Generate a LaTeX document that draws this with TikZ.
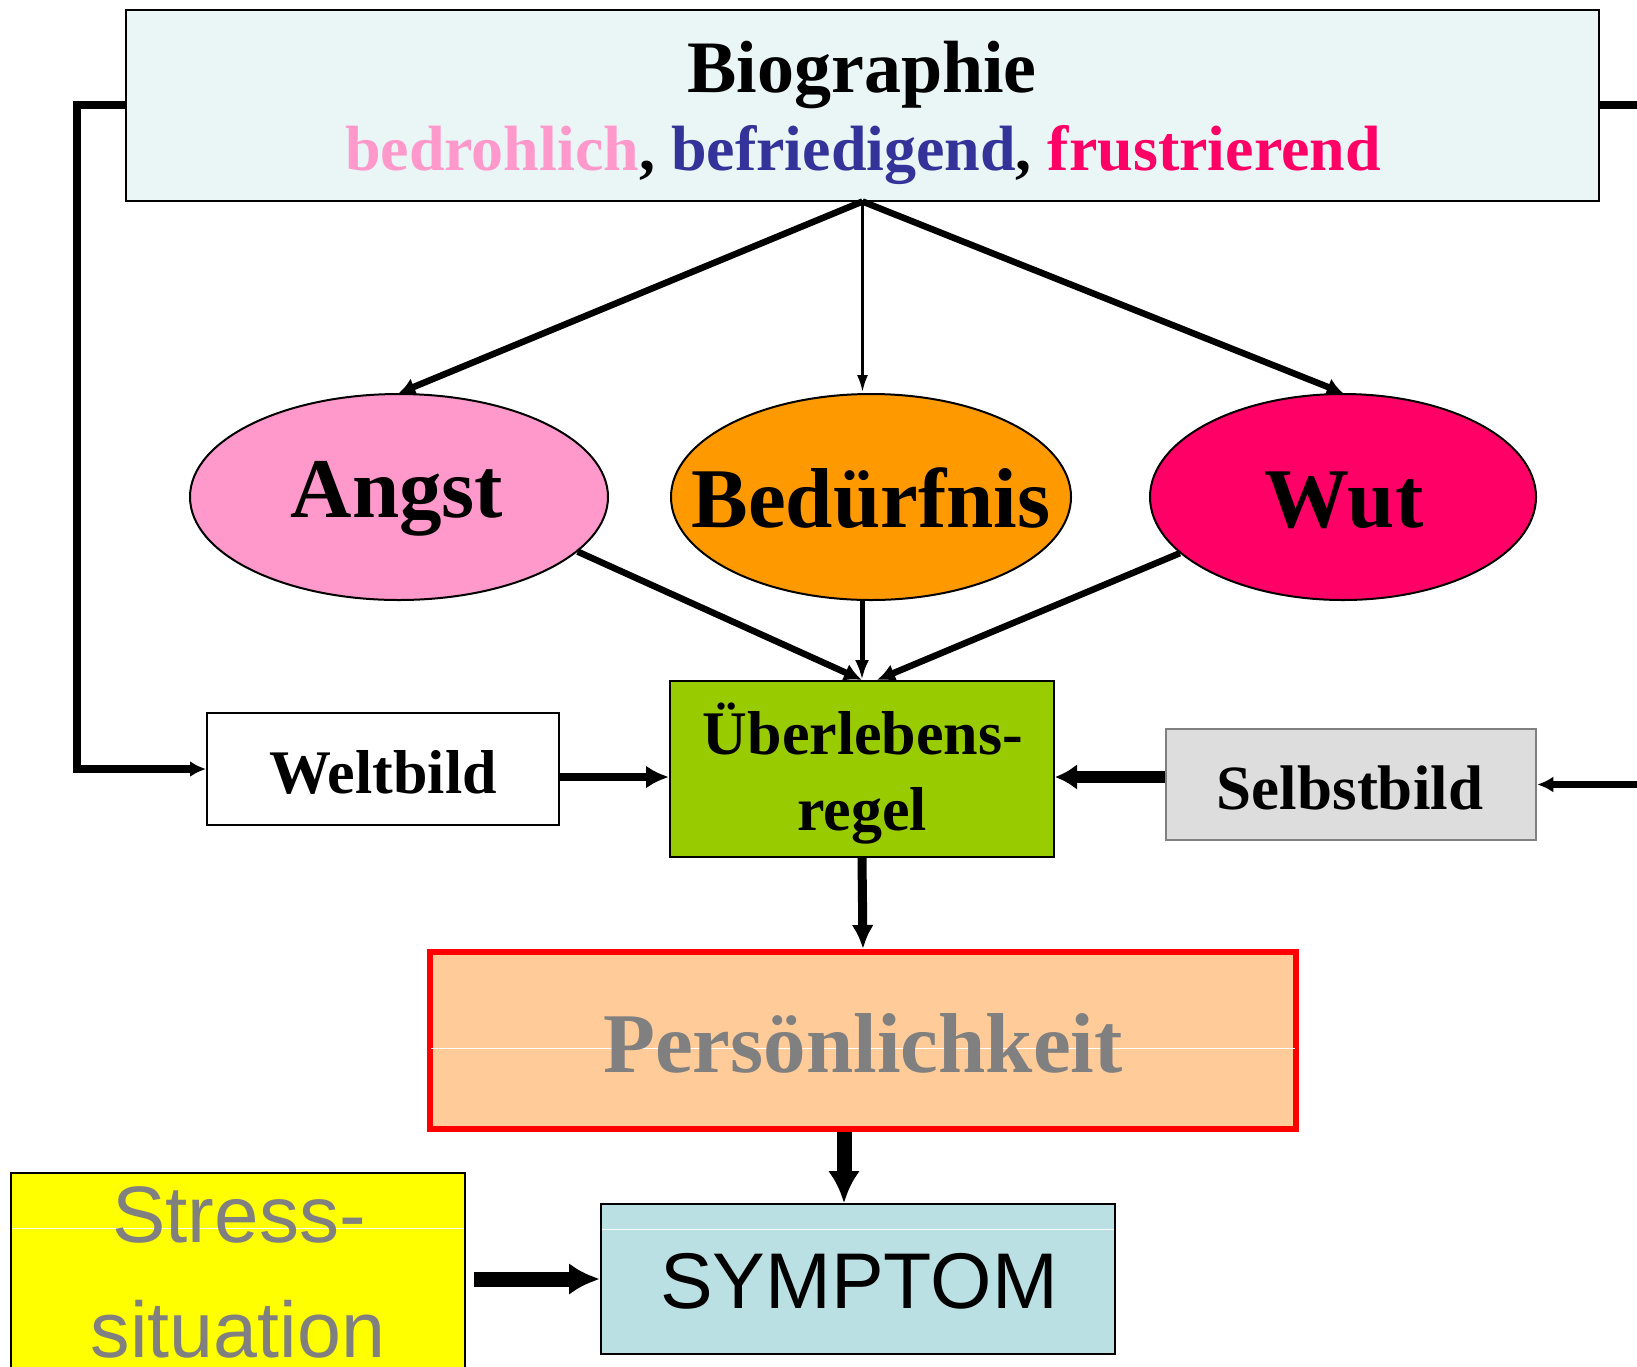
\documentclass[tikz,border=0pt]{standalone}
\usepackage{fontspec}
\setmainfont{Liberation Serif}
\newfontfamily\arialf{Liberation Sans}
\usetikzlibrary{shapes.geometric,arrows.meta}
\definecolor{bioFill}{HTML}{EAF5F5}
\definecolor{cPink}{HTML}{FF99CC}
\definecolor{cBlue}{HTML}{333399}
\definecolor{cRed}{HTML}{FF0066}
\definecolor{cOrange}{HTML}{FF9900}
\definecolor{cGreen}{HTML}{99CC00}
\definecolor{cSelbst}{HTML}{DDDDDD}
\definecolor{cPers}{HTML}{FFCC99}
\definecolor{cSymp}{HTML}{BBE0E3}
\definecolor{cGrayT}{HTML}{808080}
\definecolor{cYellow}{HTML}{FFFF00}
\begin{document}
\begin{tikzpicture}[x=1pt,y=-1pt,
  box/.style={draw, line width=2pt, rectangle, inner sep=0pt},
  ell/.style={draw, line width=2pt, ellipse, inner sep=0pt},
  lbl/.style={anchor=base, inner sep=0pt},
  fs/.style={font=\fontsize{#1}{#1}\selectfont\bfseries},
  conn/.style={line width=#1}
]
\useasboundingbox (0,0) rectangle (1637,1366);

% boxes and ellipses
\node[box, fill=bioFill, minimum width=1473pt, minimum height=191pt] (bio) at (862.5,105) {};
\node[ell, fill=cPink, minimum width=418pt, minimum height=206pt] (angst) at (399,497) {};
\node[ell, fill=cOrange, minimum width=400pt, minimum height=206pt] (bed) at (871,497) {};
\node[ell, fill=cRed, minimum width=386pt, minimum height=206pt] (wut) at (1343,497) {};
\node[box, fill=cGreen, minimum width=384pt, minimum height=176pt] (ueber) at (862,769) {};
\node[box, fill=white, minimum width=352pt, minimum height=112pt] (welt) at (383,769) {};
\node[box, draw=cGrayT, line width=2.5pt, fill=cSelbst, minimum width=370pt, minimum height=111pt] (selbst) at (1351,784.5) {};
\node[box, draw=red, line width=6pt, fill=cPers, minimum width=866pt, minimum height=177pt] (pers) at (863,1040.5) {};
\node[box, fill=cSymp, minimum width=514pt, minimum height=150pt] (symp) at (858,1279) {};
\node[box, fill=cYellow, minimum width=454pt, minimum height=217pt] (stress) at (238,1281.5) {};

% faint white lines
\draw[white, line width=1pt] ([xshift=4pt]pers.west |- 0,1048) -- ([xshift=-4pt]pers.east |- 0,1048);
\draw[white, line width=1pt] ([xshift=2pt]stress.west |- 0,1228) -- ([xshift=-2pt]stress.east |- 0,1228);
\draw[white, line width=1pt] ([xshift=2pt]symp.west |- 0,1229) -- ([xshift=-2pt]symp.east |- 0,1229);

% texts
\node[lbl, fs=74] (tbio) at (862,92) {Biographie};
\node[lbl, fs=64] (tbio2) at (863,170) {\textcolor{cPink}{bedrohlich}, \textcolor{cBlue}{befriedigend}, \textcolor{cRed}{frustrierend}};
\node[lbl, fs=85] (tangst) at (397,517) {Angst};
\node[lbl, fs=85] (tbed) at (871,527) {Bedürfnis};
\node[lbl, fs=85] (twut) at (1344,527) {Wut};
\node[lbl, fs=62] (tueber1) at (863,754) {Überlebens-};
\node[lbl, fs=62] (tueber2) at (862,830) {regel};
\node[lbl, fs=62] (twelt) at (383,793) {Weltbild};
\node[lbl, fs=63] (tselbst) at (1350,809) {Selbstbild};
\node[lbl, fs=85, text=cGrayT] (tpers) at (863,1072) {Persönlichkeit};
\node[lbl, font=\arialf\fontsize{79}{79}\selectfont] (tsymp) at (859,1308) {SYMPTOM};
\node[lbl, font=\arialf\fontsize{80}{80}\selectfont, text=cGrayT] (tstress1) at (239,1242) {Stress-};
\node[lbl, font=\arialf\fontsize{79}{79}\selectfont, text=cGrayT] (tstress2) at (238,1357) {situation};

% connectors from Biographie
\draw[conn=6.5pt, -{Latex[length=16pt,width=18pt]}] (bio.south) -- (angst.north);
\draw[conn=3.5pt, -{Latex[length=18pt,width=11pt]}] (bio.south) -- (bio.south |- bed.north);
\draw[conn=6.5pt, -{Latex[length=16pt,width=18pt]}] (bio.south) -- (wut.north);

% ellipses to Ueberlebensregel
\draw[conn=6.5pt, -{Latex[length=18pt,width=18pt]}] (angst.-17) -- (ueber.north);
\draw[conn=5pt, -{Latex[length=20pt,width=14pt]}] (ueber.north |- bed.south) -- (ueber.north);
\draw[conn=6.5pt, -{Latex[length=18pt,width=18pt]}] (wut.-161) -- ([xshift=15pt]ueber.north);

% side loops
\coordinate (rEdge) at (1660,105);
\draw[conn=7.5pt, -{Latex[length=16pt,width=16pt]}] (bio.west) -- ++(-48,0) |- (welt.west);
\draw[conn=7.5pt, -{Latex[length=16pt,width=16pt]}] (bio.east) -- (rEdge) |- (selbst.east);

% into Ueberlebensregel
\draw[conn=8pt, -{Latex[length=23pt,width=23pt]}] ([yshift=-8pt]welt.east) -- ([yshift=-8pt]ueber.west);
\draw[conn=12pt, -{Latex[length=22pt,width=26pt]}] ([yshift=7.5pt]selbst.west) -- ([yshift=-8pt]ueber.east);

% downward
\draw[conn=9pt, -{Latex[length=24pt,width=22pt]}] (ueber.south) -- (pers.north);
\draw[conn=15pt, -{Latex[length=32pt,width=32pt]}] ([xshift=-19pt]pers.south) -- ([xshift=-19pt]pers.south |- symp.north);
\draw[conn=15pt, -{Latex[length=31pt,width=32pt]}, shorten <=8pt] (stress.east |- symp.west) -- (symp.west);
\end{tikzpicture}
\end{document}
